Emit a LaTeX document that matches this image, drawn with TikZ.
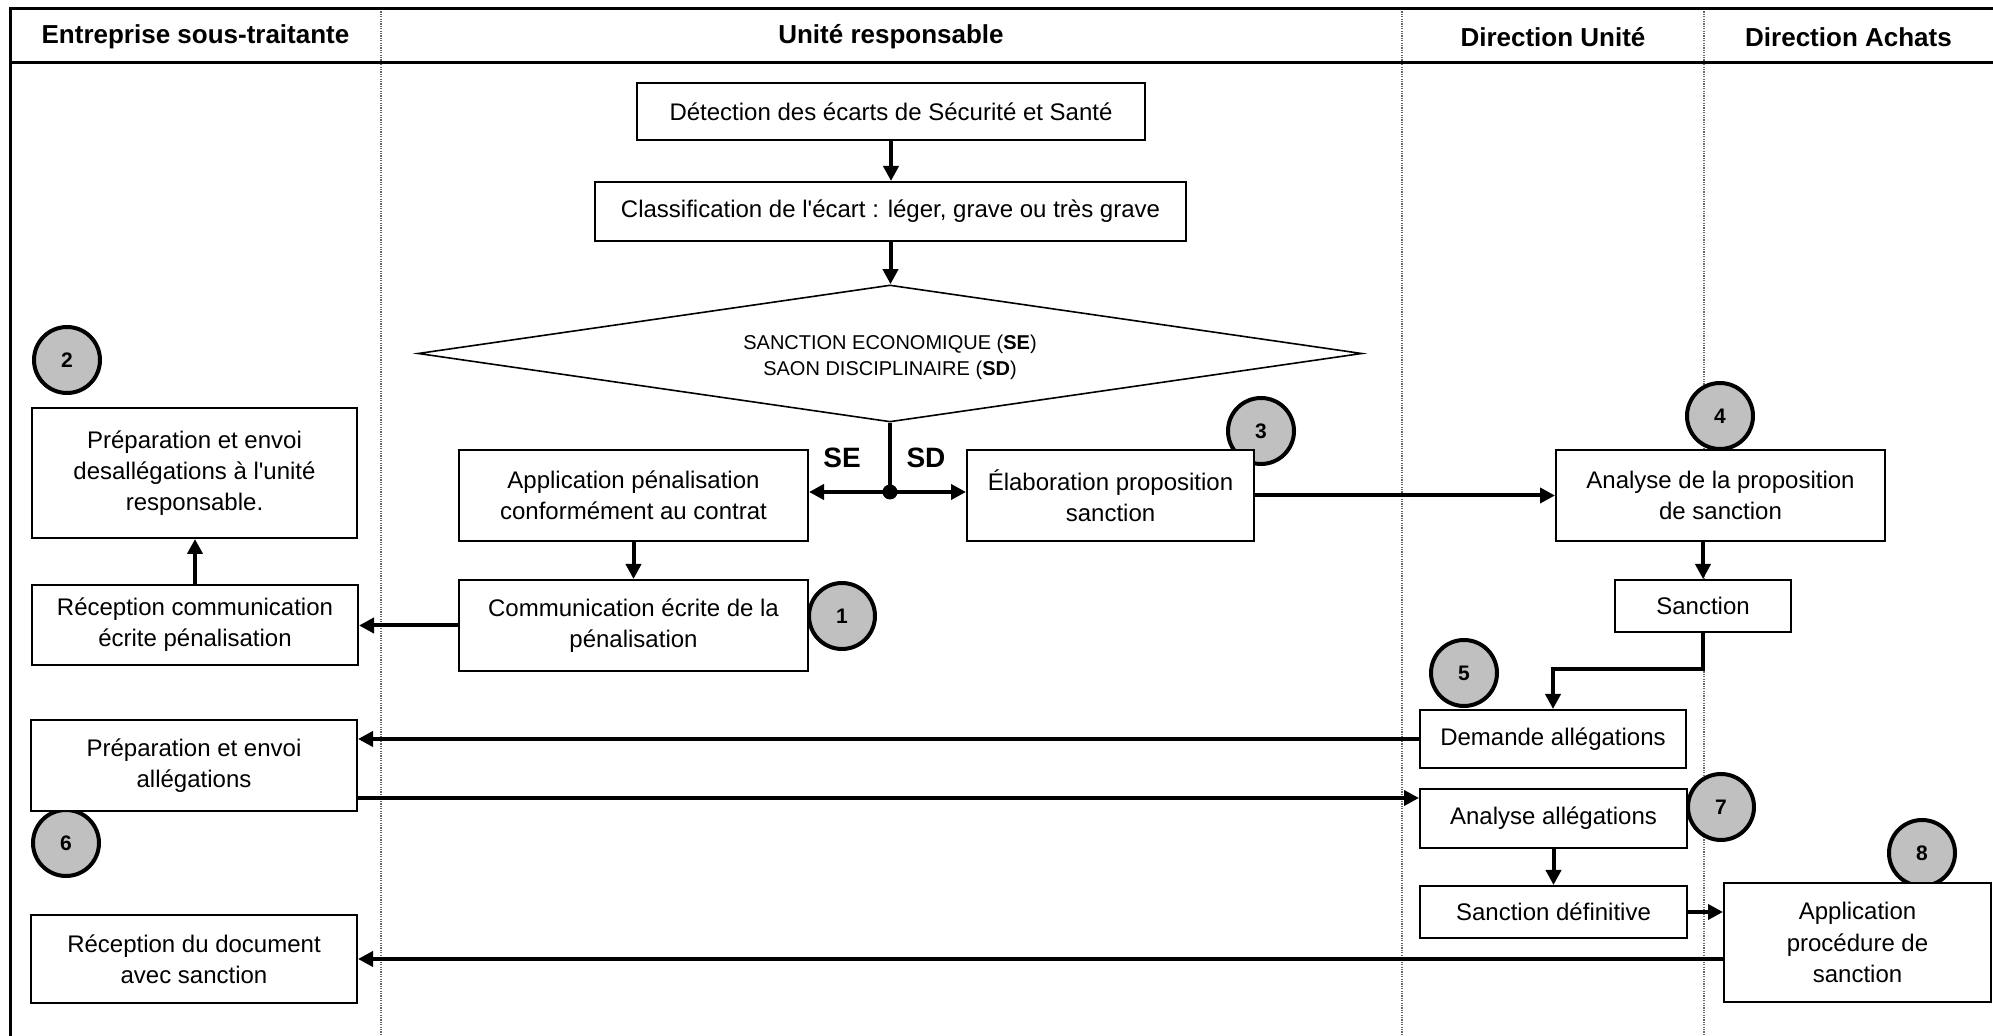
\documentclass[tikz,border=0pt]{standalone}
\usepackage{fontspec}
\setmainfont{Liberation Sans}[Ligatures=TeXOff]
\usetikzlibrary{arrows.meta,shapes.geometric}
\definecolor{numgray}{HTML}{C0C0C0}
\begin{document}
\begin{tikzpicture}[x=0.5pt,y=-0.5pt,
  box/.style={draw, line width=1pt, fill=white, align=center, inner sep=0pt,
    font=\fontsize{12}{15.6}\selectfont},
  num/.style={circle, draw, line width=2pt, fill=numgray, minimum size=33pt,
    inner sep=0pt, font=\fontsize{10.5}{12}\selectfont\bfseries},
  arr/.style={line width=2pt, -{Triangle[length=7.5pt,width=7.5pt]}},
  ln/.style={line width=2pt},
  sep/.style={black!60, line width=0.6pt, dash pattern=on 0.6pt off 0.6pt},
  frame/.style={line width=1.5pt},
  head/.style={font=\fontsize{13}{15}\selectfont\bfseries, inner sep=0pt},
  lab/.style={font=\fontsize{14}{16}\selectfont\bfseries, inner sep=0pt},
  dia/.style={diamond, draw, line width=0.8pt, fill=white, aspect=6.9, inner sep=0pt,
    minimum width=472pt, minimum height=68.5pt},
  diatext/.style={align=center, inner sep=0pt, font=\fontsize{10}{13}\selectfont},
  dot/.style={circle, fill=black, inner sep=0pt, minimum size=7.5pt}
]
\useasboundingbox (0,0) rectangle (1993,1036);

% lane separators
\draw[sep] (381,9) -- (381,1036);
\draw[sep] (1402,9) -- (1402,1036);
\draw[sep] (1704,9) -- (1704,1036);
% frame
\draw[frame] (10,1036) -- (10,9) -- (1993,9);
\draw[frame] (10,63) -- (1993,63);

% headers
\node[head] (h1) at (195.5,37) {Entreprise sous-traitante};
\node[head] (h2) at (891,37) {Unité responsable};
\node[head] (h3) at (1553,37) {Direction Unité};
\node[head] (h4) at (1848.5,37) {Direction Achats};

% number circles
\node[num] (c1) at (842,616) {1};
\node[num] (c2) at (67,360) {2};
\node[num] (c3) at (1261,431) {3};
\node[num] (c4) at (1720,416) {4};
\node[num] (c5) at (1464,673) {5};
\node[num] (c6) at (66,843) {6};
\node[num] (c7) at (1721,807) {7};
\node[num] (c8) at (1922,853) {8};

% boxes
\node[box, minimum width=254pt, minimum height=28.5pt] (det) at (891,112)
  {Détection des écarts de Sécurité et Santé};
\node[box, minimum width=295.5pt, minimum height=29.5pt] (cls) at (890.5,211.5)
  {Classification de l'écart : léger, grave ou très grave};
\node[dia] (dia) at (890,353.5) {};
\node[diatext] (diat) at (890,357.5)
  {SANCTION ECONOMIQUE (\textbf{SE})\\SAON DISCIPLINAIRE (\textbf{SD})};
\node[dot] (jn) at (890,492) {};
\node[lab] (se) at (842,458) {SE};
\node[lab] (sd) at (926,458) {SD};
\node[box, minimum width=174.5pt, minimum height=45.5pt] (app) at (633.5,495.5)
  {Application pénalisation\\conformément au contrat};
\node[box, minimum width=143.5pt, minimum height=45.5pt] (ela) at (1110.5,495.5)
  {Élaboration proposition\\sanction};
\node[box, minimum width=174.5pt, minimum height=45.5pt] (com) at (633.5,625.5)
  {Communication écrite de la\\pénalisation};
\node[box, minimum width=163pt, minimum height=40pt] (rcom) at (195,625)
  {Réception communication\\écrite pénalisation};
\node[box, minimum width=162.5pt, minimum height=65pt] (prep1) at (194.5,473)
  {Préparation et envoi\\desallégations à l'unité\\responsable.};
\node[box, minimum width=164.5pt, minimum height=45.5pt] (ana) at (1720.5,495.5)
  {Analyse de la proposition\\de sanction};
\node[box, minimum width=88pt, minimum height=26pt] (sanc) at (1703,606)
  {Sanction};
\node[box, minimum width=133pt, minimum height=29pt] (dem) at (1553,739)
  {Demande allégations};
\node[box, minimum width=163pt, minimum height=45.5pt] (prep2) at (194,765.5)
  {Préparation et envoi\\allégations};
\node[box, minimum width=133.5pt, minimum height=29.5pt] (anaall) at (1553.5,818.5)
  {Analyse allégations};
\node[box, minimum width=133.5pt, minimum height=26pt] (sdef) at (1553.5,912)
  {Sanction définitive};
\node[box, minimum width=133.5pt, minimum height=59.5pt] (appproc) at (1857.5,942.5)
  {Application\\procédure de\\sanction};
\node[box, minimum width=163pt, minimum height=44pt] (rdoc) at (194,959)
  {Réception du document\\avec sanction};

% connectors
\draw[arr] (det.south) -- (det.south |- cls.north);
\draw[arr] (cls.south) -- (cls.south |- dia.north);
\draw[ln] (dia.south) -- (jn.center);
\draw[arr] (jn.center) -- (jn.center -| app.east);
\draw[arr] (jn.center) -- (jn.center -| ela.west);
\draw[arr] (app.south) -- (com.north);
\draw[arr] (com.west) -- (com.west -| rcom.east);
\draw[arr] (rcom.north) -- (rcom.north |- prep1.south);
\draw[arr] (ela.east) -- (ela.east -| ana.west);
\draw[arr] (ana.south -| sanc.north) -- (sanc.north);
\coordinate (bend) at (1553,669);
\draw[arr] (sanc.south) |- (bend) -- (dem.north);
\draw[arr] (dem.west) -- (dem.west -| prep2.east);
\draw[arr] ([yshift=7pt]prep2.south east) -- ([yshift=7pt]prep2.south east -| anaall.west);
\draw[arr] (anaall.south) -- (sdef.north);
\draw[arr] (sdef.east) -- (sdef.east -| appproc.west);
\draw[arr] (rdoc.east -| appproc.west) -- (rdoc.east);
\end{tikzpicture}
\end{document}
